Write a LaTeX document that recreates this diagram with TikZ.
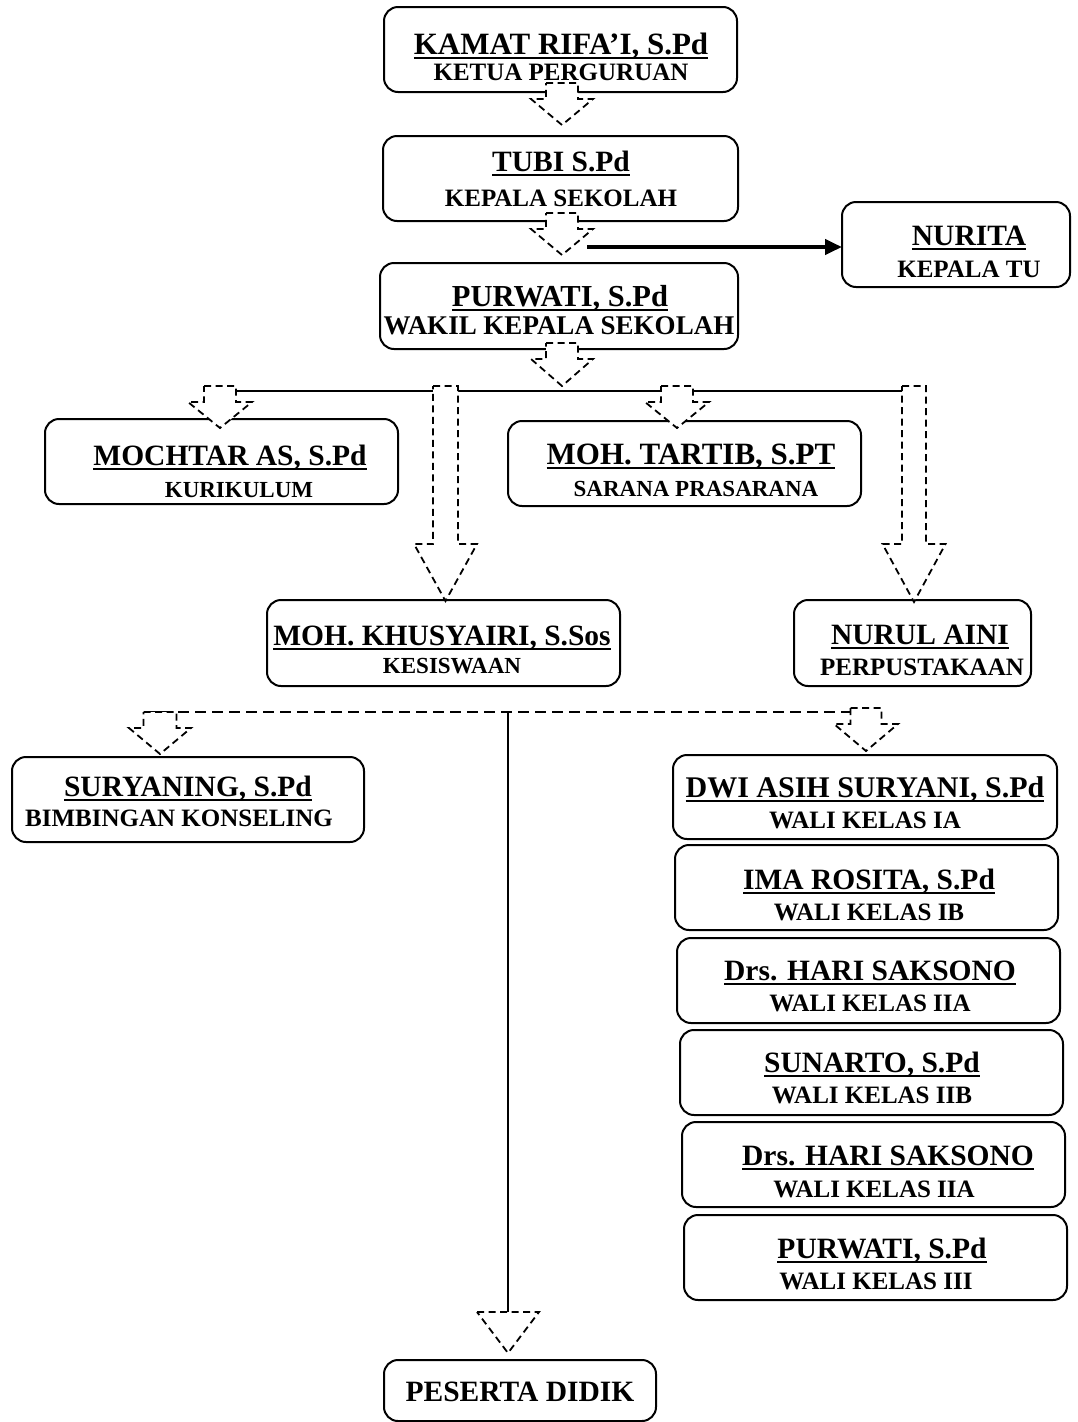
\documentclass[tikz,border=0pt]{standalone}
\usepackage{fontspec}
\setmainfont{Liberation Serif}
\usetikzlibrary{arrows.meta}
\newcommand{\ulname}[1]{\setbox0\hbox{#1}\rlap{\rule[-4.5pt]{\wd0}{2pt}}\box0}
\newcommand{\orgbox}[5]{%
  \node[orgrect, minimum width={#4-#2}, minimum height={#5-#3}] (#1) at ({(#2+#4)/2},{(#3+#5)/2}) {};}
\newcommand{\blockarrow}[6]{%
  \filldraw[dsh] ({#1-#5},#2) -- ({#1+#5},#2) -- ({#1+#5},#3) -- ({#1+#6},#3) -- (#1,#4) -- ({#1-#6},#3) -- ({#1-#5},#3) -- cycle;}
\tikzset{
  orgrect/.style={draw, line width=2pt, rounded corners=14pt, inner sep=0pt, outer sep=0pt},
  nm/.style={font=\fontsize{#1}{#1}\selectfont\bfseries, inner sep=0pt, text height=19.5pt, text depth=0pt},
  nm/.default=29.5,
  tt/.style={font=\fontsize{#1}{#1}\selectfont\bfseries, inner sep=0pt, text height=16.5pt, text depth=0pt},
  tt/.default=25,
  dsh/.style={draw=black, fill=white, line width=1.8pt, dash pattern=on 7pt off 4.5pt},
  conn/.style={draw, line width=1.8pt},
  dconn/.style={draw, line width=1.8pt, dash pattern=on 11pt off 6pt}
}
\begin{document}
\begin{tikzpicture}[x=1pt,y=-1pt]
\useasboundingbox[fill=white] (0,0) rectangle (1077,1422);
% boxes
\orgbox{b1}{384}{7}{737}{92}
\orgbox{b2}{383}{136}{738}{221}
\orgbox{b3}{842}{202}{1070}{287}
\orgbox{b4}{380}{263}{738}{349}
\orgbox{b5}{45}{419}{398}{504}
\orgbox{b6}{508}{421}{861}{506}
\orgbox{b7}{267}{600}{620}{686}
\orgbox{b8}{794}{600}{1031}{686}
\orgbox{b9}{12}{757}{364}{842}
\orgbox{b10}{673}{755}{1057}{839}
\orgbox{b11}{675}{845}{1058}{930}
\orgbox{b12}{677}{938}{1060}{1023}
\orgbox{b13}{680}{1030}{1063}{1115}
\orgbox{b14}{682}{1122}{1065}{1207}
\orgbox{b15}{684}{1215}{1067}{1300}
\orgbox{b16}{384}{1360}{656}{1421}
% texts
\node[nm=31] (n1) at (561,45) {\ulname{KAMAT RIFA’I, S.Pd}};
\node[tt] (t1) at (561,72) {KETUA PERGURUAN};
\node[nm] (n2) at (561,162) {\ulname{TUBI S.Pd}};
\node[tt] (t2) at (561,198) {KEPALA SEKOLAH};
\node[nm] (n3) at (969,236) {\ulname{NURITA}};
\node[tt] (t3) at (969,269) {KEPALA TU};
\node[nm=30.5] (n4) at (560,297) {\ulname{PURWATI, S.Pd}};
\node[tt=27] (t4) at (559,326) {WAKIL KEPALA SEKOLAH};
\node[nm] (n5) at (230,456) {\ulname{MOCHTAR AS, S.Pd}};
\node[tt=23] (t5) at (239,489) {KURIKULUM};
\node[nm=31] (n6) at (691,455) {\ulname{MOH. TARTIB, S.PT}};
\node[tt=23] (t6) at (696,488) {SARANA PRASARANA};
\node[nm] (n7) at (442,636) {\ulname{MOH. KHUSYAIRI, S.Sos}};
\node[tt=23] (t7) at (452,665) {KESISWAAN};
\node[nm] (n8) at (920,635) {\ulname{NURUL AINI}};
\node[tt] (t8) at (922,667) {PERPUSTAKAAN};
\node[nm] (n9) at (188,787) {\ulname{SURYANING, S.Pd}};
\node[tt] (t9) at (179,818) {BIMBINGAN KONSELING};
\node[nm=30] (n10) at (865,788) {\ulname{DWI ASIH SURYANI, S.Pd}};
\node[tt] (t10) at (865,820) {WALI KELAS IA};
\node[nm] (n11) at (869,880) {\ulname{IMA ROSITA, S.Pd}};
\node[tt] (t11) at (869,912) {WALI KELAS IB};
\node[nm] (n12) at (870,971) {\ulname{Drs. HARI SAKSONO}};
\node[tt] (t12) at (870,1003) {WALI KELAS IIA};
\node[nm] (n13) at (872,1063) {\ulname{SUNARTO, S.Pd}};
\node[tt] (t13) at (872,1095) {WALI KELAS IIB};
\node[nm] (n14) at (888,1156) {\ulname{Drs. HARI SAKSONO}};
\node[tt] (t14) at (874,1189) {WALI KELAS IIA};
\node[nm] (n15) at (882,1249) {\ulname{PURWATI, S.Pd}};
\node[tt] (t15) at (876,1281) {WALI KELAS III};
\node[nm] (n16) at (520,1392) {PESERTA DIDIK};
% connector coordinates
\coordinate (brL) at (220,391);
\coordinate (brR) at (914,391);
\coordinate (dL) at (144,712);
\coordinate (dR) at (866,712);
\coordinate (vT) at (508,712);
\coordinate (vB) at (508,1312);
\coordinate (tuS) at (587,247);
% lines
\path[conn] (brL) -- (brR);
\path[dconn] (dL) -- (dR);
\path[conn] (vT) -- (vB);
\draw[line width=4pt, -{Triangle[length=17pt,width=15pt]}] (tuS) -- (b3.west |- tuS);
% block arrows
\blockarrow{562}{83}{99}{125}{16}{31}
\blockarrow{562}{213}{229}{255}{16}{31}
\blockarrow{562}{343}{359}{386}{16}{31}
\blockarrow{220}{386}{402}{428}{16}{32}
\blockarrow{677}{386}{402}{428}{16}{32}
\blockarrow{445.5}{386}{544}{601}{12.5}{31.5}
\blockarrow{914}{386}{544}{602}{12}{31.5}
\blockarrow{160}{712}{728}{754}{16.5}{31}
\blockarrow{866}{708}{724}{751}{15.5}{32}
\filldraw[dsh] (477,1312) -- (539,1312) -- (508,1353) -- cycle;
\end{tikzpicture}
\end{document}
